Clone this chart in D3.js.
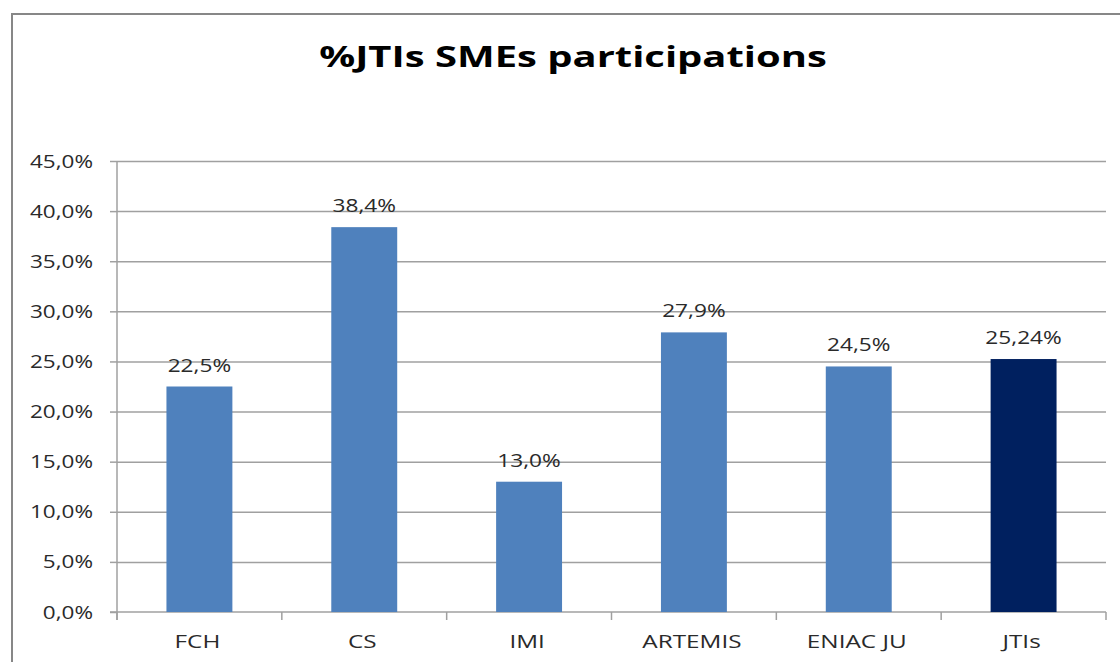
<!DOCTYPE html>
<html><head><meta charset="utf-8">
<script src="https://cdn.jsdelivr.net/npm/d3@7"></script>
<style>body{margin:0;background:#fff}svg{display:block}text{font-family:"Open Sans",sans-serif}</style>
</head><body><svg id="c" width="1120" height="662"></svg>
<script>
const categories = ["FCH","CS","IMI","ARTEMIS","ENIAC JU","JTIs"];
const values = [22.5,38.4,13.0,27.9,24.5,25.24];
const valueLabels = ["22,5%","38,4%","13,0%","27,9%","24,5%","25,24%"];
const yTicks = [0,5,10,15,20,25,30,35,40,45];
const yTickLabels = ["0,0%","5,0%","10,0%","15,0%","20,0%","25,0%","30,0%","35,0%","40,0%","45,0%"];
const title = "%JTIs SMEs participations";

const svg = d3.select("#c");
const W = 1120, H = 662;
const m = {left:117, right:1106, top:161, bottom:612};

svg.append("rect").attr("x",12).attr("y",14).attr("width",W+10).attr("height",H+10)
  .attr("fill","#fff").attr("stroke","#878787").attr("stroke-width",2);

const x = d3.scaleBand().domain(categories).range([m.left,m.right]).paddingInner(0.6).paddingOuter(0.3);
const y = d3.scaleLinear().domain([0,45]).range([m.bottom,m.top]);

function sText(g, tx, ty, str, anchor, size, weight, fill, sx){
  return g.append("text").attr("transform",`translate(${tx},${ty}) scale(${sx},1)`)
    .attr("text-anchor",anchor).attr("font-size",size).attr("font-weight",weight||"normal")
    .attr("fill",fill||"#222").text(str);
}

// gridlines + y axis
const yAxis = d3.axisLeft(y).tickValues(yTicks).tickSize(7).tickFormat("");
const gy = svg.append("g").attr("transform",`translate(${m.left},0)`).call(yAxis);
gy.select(".domain").attr("stroke","#a0a0a0").attr("stroke-width",1.5).attr("d",`M0,${m.top}V${m.bottom+8}`);
gy.selectAll(".tick line").attr("stroke","#a0a0a0").attr("stroke-width",1.5);
gy.selectAll(".tick").filter(d=>d>0).append("line").attr("x1",0).attr("x2",m.right-m.left).attr("stroke","#a0a0a0").attr("stroke-width",1.5);
yTicks.forEach((t,i)=>{
  sText(svg, 93, y(t)+6.5, yTickLabels[i], "end", 18, "normal", "#2a2a2a", 1.25);
});

// x axis
const gx = svg.append("g").attr("transform",`translate(0,${m.bottom})`);
gx.append("line").attr("x1",m.left-7).attr("x2",m.right).attr("stroke","#a0a0a0").attr("stroke-width",1.5);
d3.range(categories.length+1).forEach(i=>{
  const xx = m.left + i*(m.right-m.left)/categories.length;
  gx.append("line").attr("x1",xx).attr("x2",xx).attr("y1",0).attr("y2",8).attr("stroke","#a0a0a0").attr("stroke-width",1.5);
});
categories.forEach(c=>{
  sText(svg, x(c)+x.bandwidth()/2-2, 648, c, "middle", 18, "normal", "#2a2a2a", 1.35);
});

// bars
svg.selectAll("rect.bar").data(values).join("rect").attr("class","bar")
  .attr("x",(d,i)=>x(categories[i])).attr("width",x.bandwidth())
  .attr("y",d=>y(d)).attr("height",d=>y(0)-y(d))
  .attr("fill",(d,i)=>i===categories.length-1?"#00205F":"#4F81BD");

values.forEach((v,i)=>{
  sText(svg, x(categories[i])+x.bandwidth()/2, y(v)-15, valueLabels[i], "middle", 18, "normal", "#2a2a2a", 1.26);
});

sText(svg, 573, 67, title, "middle", 29, "bold", "#000", 1.378);
</script></body></html>
